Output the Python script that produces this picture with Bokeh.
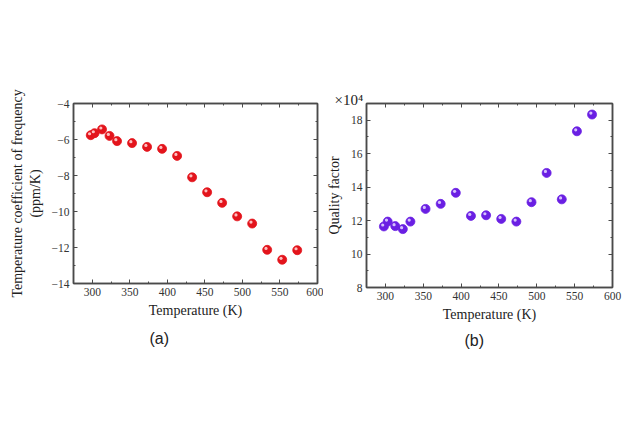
from bokeh.plotting import figure
from bokeh.layouts import row
from bokeh.models import LinearAxis, SingleIntervalTicker, Range1d, Title, ColumnDataSource
from bokeh.transform import dodge
from bokeh.embed import file_html
from bokeh.resources import INLINE

# Measurement temperatures (K)
temperature = [298, 303, 313, 323, 333, 353, 373, 393, 413, 433, 453, 473, 493, 513, 533, 553, 573]
# Temperature coefficient of frequency (ppm/K)
tcf = [-5.76, -5.65, -5.44, -5.80, -6.09, -6.20, -6.41, -6.52, -6.91, -8.10, -8.93, -9.52,
       -10.27, -10.67, -12.13, -12.68, -12.15]
# Quality factor (x10^4)
qf = [11.65, 11.94, 11.67, 11.49, 11.94, 12.70, 13.00, 13.66, 12.28, 12.32, 12.10, 11.94,
      13.10, 14.85, 13.27, 17.34, 18.34]

SERIF = "Liberation Serif"
AX_COLOR = "#4a4a4a"


def style_axis(ax, show_labels=True):
    ax.axis_line_color = AX_COLOR
    ax.axis_line_width = 1.5
    ax.major_tick_line_color = AX_COLOR
    ax.minor_tick_line_color = AX_COLOR
    ax.major_tick_in = 4
    ax.major_tick_out = 0
    ax.minor_tick_in = 2
    ax.minor_tick_out = 0
    ax.major_label_text_font = SERIF
    ax.major_label_text_font_size = "11.5px"
    ax.major_label_text_color = "#333333" if show_labels else None
    ax.axis_label_text_font = SERIF
    ax.axis_label_text_font_style = "normal"
    ax.axis_label_text_font_size = "14px"
    ax.axis_label_text_color = "#222222"


def make_panel(yvals, y_start, y_end, color, hi_color, ylabel, border_left, border_right, border_top,
               frame_w, frame_h, tag, tag_offset, tag_standoff):
    p = figure(output_backend="svg", toolbar_location=None,
               frame_width=frame_w, frame_height=frame_h,
               min_border_left=border_left, min_border_right=border_right,
               min_border_top=border_top, min_border_bottom=440 - border_top - frame_h,
               x_range=Range1d(275, 600), y_range=Range1d(y_start, y_end),
               x_axis_type=None, y_axis_type=None)
    p.grid.visible = False
    p.outline_line_color = AX_COLOR
    p.outline_line_width = 1.5
    p.background_fill_color = "white"
    p.border_fill_color = "white"

    xt = SingleIntervalTicker(interval=50, num_minor_ticks=2)
    yt = SingleIntervalTicker(interval=2, num_minor_ticks=2)
    bottom = LinearAxis(ticker=xt, axis_label="Temperature (K)")
    left = LinearAxis(ticker=yt, axis_label=ylabel)
    top = LinearAxis(ticker=xt)
    right = LinearAxis(ticker=yt)
    for ax, lab in ((bottom, True), (left, True), (top, False), (right, False)):
        style_axis(ax, lab)
    bottom.major_label_standoff = 4
    bottom.axis_label_standoff = 4
    left.major_label_standoff = 4
    left.axis_label_standoff = 6
    top.major_label_text_font_size = "0px"
    top.major_label_standoff = 0
    right.major_label_text_font_size = "0px"
    right.major_label_standoff = 0
    p.add_layout(bottom, "below")
    p.add_layout(left, "left")
    p.add_layout(top, "above")
    p.add_layout(right, "right")

    src = ColumnDataSource(dict(t=temperature, v=yvals))
    p.scatter("t", "v", source=src, size=9, fill_color=color, line_color=color, line_width=0.8)
    # glossy highlight on each sphere
    dy = (y_end - y_start) * 0.008
    p.scatter(dodge("t", -1.6, range=p.x_range), dodge("v", dy, range=p.y_range), source=src,
              size=3.2, fill_color=hi_color, line_color=None, fill_alpha=0.9)

    # panel tag underneath the x-axis title
    p.add_layout(Title(text=tag, align="left", offset=tag_offset, standoff=tag_standoff,
                       text_font="Liberation Sans", text_font_size="16px",
                       text_font_style="normal", text_color="#222222"), "below")
    return p


pa = make_panel(tcf, -14, -4, "#e3141c", "#ffd0d0",
                "Temperature coefficient of frequency\n(ppm/K)",
                border_left=73, border_right=6, border_top=103, frame_w=244, frame_h=180,
                tag="(a)", tag_offset=76, tag_standoff=14)

pb = make_panel(qf, 8, 19, "#6a1fe3", "#e0d0ff", "Quality factor",
                border_left=40, border_right=20, border_top=100, frame_w=246, frame_h=184,
                tag="(b)", tag_offset=98, tag_standoff=11)
# multiplier for the quality-factor axis
pb.add_layout(Title(text="×10⁴", align="left", offset=-32, standoff=-9,
                    text_font=SERIF, text_font_size="15px", text_font_style="normal",
                    text_color="#222222"), "above")

layout = row(pa, pb)
open("out.html", "w").write(file_html(layout, INLINE))
